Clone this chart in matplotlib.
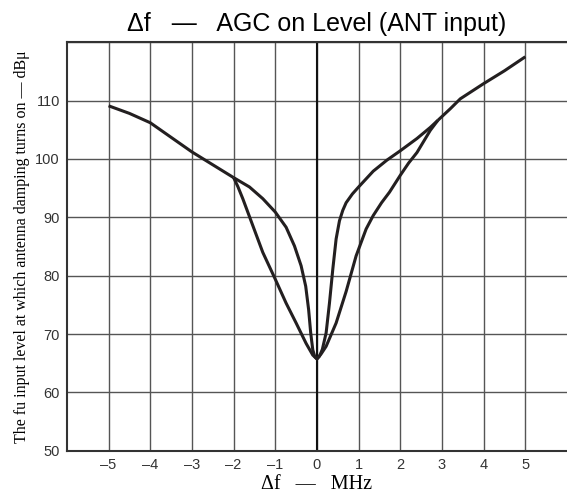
import matplotlib.pyplot as plt

plt.rcParams['font.family'] = ['Liberation Sans', 'DejaVu Sans']

# shared branches
left_x = [-5.0, -4.5, -4.0, -3.5, -3.0, -2.5, -2.0]
left_y = [109.1, 107.8, 106.2, 103.7, 101.2, 99.0, 96.8]
right_x = [2.9, 3.2, 3.44, 4.0, 4.5, 5.0]
right_y = [106.6, 108.6, 110.3, 112.9, 115.1, 117.5]

# narrow dip (inner curve)
inner_x = [-2.0, -1.62, -1.3, -1.0, -0.74, -0.54, -0.38, -0.27, -0.2, -0.15, -0.1, -0.05, 0.0,
           0.06, 0.13, 0.22, 0.3, 0.38, 0.46, 0.54, 0.62, 0.7, 0.85, 1.0, 1.35, 1.68,
           2.0, 2.4, 2.72, 2.9]
inner_y = [96.8, 95.2, 93.2, 90.9, 88.3, 85.1, 81.7, 78.2, 74.2, 70.2, 67.3, 66.1, 65.75,
           66.2, 67.4, 70.2, 75.3, 81.1, 86.3, 89.4, 91.2, 92.5, 94.0, 95.2, 97.9, 99.8,
           101.4, 103.5, 105.4, 106.6]

# wide dip (outer curve)
outer_x = [-2.0, -1.9, -1.78, -1.54, -1.3, -1.0, -0.74, -0.5, -0.26, -0.1, 0.0,
           0.1, 0.22, 0.46, 0.7, 0.94, 1.18, 1.35, 1.55, 1.74, 2.0, 2.2, 2.4, 2.72, 2.9]
outer_y = [96.8, 95.3, 93.2, 88.6, 84.0, 79.4, 75.3, 71.9, 68.4, 66.4, 65.75,
           66.6, 67.9, 71.9, 77.3, 83.4, 88.0, 90.3, 92.5, 94.3, 97.2, 99.3, 101.1, 104.9, 106.6]

xticks = [-5, -4, -3, -2, -1, 0, 1, 2, 3, 4, 5]
yticks = [50, 60, 70, 80, 90, 100, 110]

fig = plt.figure(figsize=(5.67, 4.96), dpi=100)
ax = fig.add_axes([0.118, 0.091, 0.882, 0.824])

line = dict(color='#231f20', lw=2.2, solid_capstyle='butt', solid_joinstyle='round', zorder=3)
ax.plot(left_x, left_y, **line)
ax.plot(right_x, right_y, **line)
ax.plot(inner_x, inner_y, **line)
ax.plot(outer_x, outer_y, **line)

ax.set_xlim(-6, 6)
ax.set_ylim(50, 120)
ax.set_xticks(xticks)
ax.set_xticklabels([str(t).replace('-', '\u2013') for t in xticks])
ax.set_yticks(yticks + [120])
ax.set_yticklabels([str(t) for t in yticks] + [''])
ax.grid(True, color='#555555', lw=1.0)
ax.axvline(0, color='#111111', lw=1.5, zorder=2)
ax.tick_params(length=0, pad=5, labelsize=10.5, colors='#333333')

for s in ['left', 'bottom', 'top']:
    ax.spines[s].set_color('#333333')
    ax.spines[s].set_linewidth(1.5)
ax.spines['right'].set_visible(False)

ax.set_title('\u0394f   \u2014   AGC on Level (ANT input)', fontsize=18, pad=8)
ax.set_xlabel('\u0394f   \u2014   MHz', fontsize=14.5, family=['Liberation Serif', 'DejaVu Serif'], labelpad=2)
ax.set_ylabel('The fu input level at which antenna damping turns on \u2014 dB\u03bc',
              fontsize=11.5, family=['Liberation Serif', 'DejaVu Serif'], labelpad=4)

fig.savefig('out.png', dpi=100)
